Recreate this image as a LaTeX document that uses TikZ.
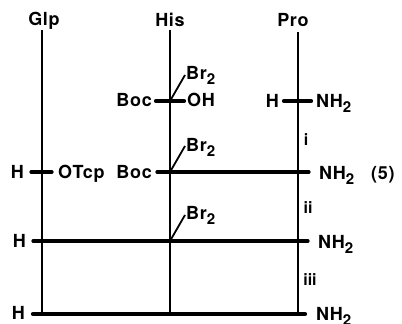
\documentclass[tikz,border=0pt]{standalone}
\usepackage{fontspec}
\setmainfont{TeX Gyre Heros}
\newfontfamily\spacedfont[LetterSpace=4]{TeX Gyre Heros}
\newcommand{\subtwo}{\raisebox{-5pt}{\fontsize{15}{15}\selectfont 2}}
\begin{document}
\begin{tikzpicture}[x=1pt,y=-1pt,
  lbl/.style={inner sep=0pt,font=\fontsize{18}{18}\spacedfont\bfseries},
  small/.style={inner sep=0pt,font=\fontsize{16}{16}\selectfont\bfseries},
  chain/.style={line width=2.5pt},
  bar/.style={line width=3.2pt,line cap=round},
  thickbar/.style={line width=4.2pt,line cap=round},
  arm/.style={line width=1.8pt}]
\useasboundingbox[clip] (0,0) rectangle (402,324);
% column heads
\node[lbl,anchor=base] (glp) at (44,25) {Glp};
\node[lbl,anchor=base] (his) at (170,26) {His};
\node[lbl,anchor=base] (pro) at (293,26) {Pro};
% chain ends
\coordinate (g0) at (42,30); \coordinate (g1) at (42,313);
\coordinate (h0) at (170,30); \coordinate (h1) at (170,313);
\coordinate (p0) at (298,32); \coordinate (p1) at (298,313);
\draw[chain] (g0) -- (g1);
\draw[chain] (h0) -- (h1);
\draw[chain] (p0) -- (p1);
% row 1
\node[lbl,anchor=base east] (boc1) at (152,106) {Boc};
\node[lbl,anchor=base west] (oh) at (187,106) {OH};
\node[lbl,anchor=base west] (br1) at (186,79) {Br\subtwo};
\node[lbl,anchor=base east] (h1l) at (279,107) {H};
\node[lbl,anchor=base west] (n1) at (316,107) {NH\subtwo};
\coordinate (a1) at (156,101); \coordinate (b1) at (184,101);
\coordinate (c1) at (284,101); \coordinate (d1) at (311,101);
\coordinate (j1) at (170,101); \coordinate (t1) at (185,75);
\draw[thickbar] (a1) -- (b1);
\draw[thickbar] (c1) -- (d1);
\draw[arm] (j1) -- (t1);
\node[small,anchor=base] (i) at (306,145) {i};
% row 2
\node[lbl,anchor=base east] (h2l) at (24,178) {H};
\node[lbl,anchor=base west] (otcp) at (58,178) {OTcp};
\node[lbl,anchor=base east] (boc2) at (152,178) {Boc};
\node[lbl,anchor=base west] (br2) at (186,151) {Br\subtwo};
\node[lbl,anchor=base west] (n2) at (319,179) {NH\subtwo};
\node[lbl,anchor=base west] (five) at (371,179) {(5)};
\coordinate (a2) at (31,172); \coordinate (b2) at (52,172);
\coordinate (c2) at (157,172); \coordinate (d2) at (309,172);
\coordinate (j2) at (170,172); \coordinate (t2) at (185,146);
\draw[bar] (a2) -- (b2);
\draw[bar] (c2) -- (d2);
\draw[arm] (j2) -- (t2);
\node[small,anchor=base] (ii) at (308,213) {ii};
% row 3
\node[lbl,anchor=base east] (h3l) at (26,247) {H};
\node[lbl,anchor=base west] (br3) at (186,219) {Br\subtwo};
\node[lbl,anchor=base west] (n3) at (318,248) {NH\subtwo};
\coordinate (a3) at (33,241); \coordinate (b3) at (308,241);
\coordinate (j3) at (170,241); \coordinate (t3) at (185,215);
\draw[bar] (a3) -- (b3);
\draw[arm] (j3) -- (t3);
\node[small,anchor=base] (iii) at (310,285) {iii};
% row 4
\node[lbl,anchor=base east] (h4l) at (25,319) {H};
\node[lbl,anchor=base west] (n4) at (316,320) {NH\subtwo};
\coordinate (a4) at (33,314); \coordinate (b4) at (305,314);
\draw[thickbar] (a4) -- (b4);
\end{tikzpicture}
\end{document}
